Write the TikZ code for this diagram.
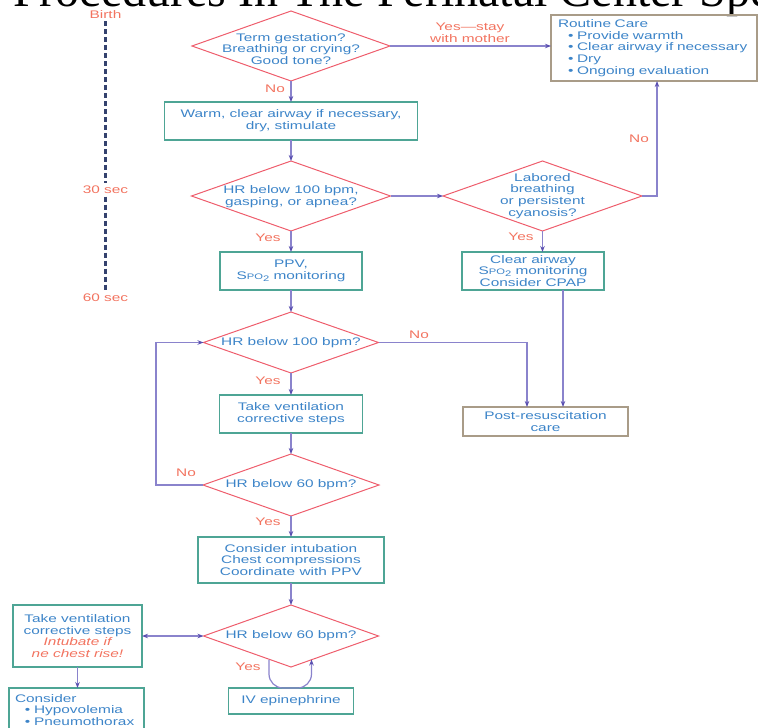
\documentclass[tikz,border=0pt]{standalone}
\usepackage{fontspec}
\setmainfont{Liberation Sans}
\newfontfamily\flowfont{Liberation Sans}[FakeStretch=1.4]
\newfontfamily\titlefont{Liberation Serif}
\usetikzlibrary{shapes.geometric,arrows.meta}
\definecolor{txtblue}{HTML}{3C84C8}
\definecolor{lblred}{HTML}{F2735F}
\definecolor{diared}{HTML}{EE5D6C}
\definecolor{boxteal}{HTML}{4EA595}
\definecolor{boxtan}{HTML}{A99C88}
\definecolor{connc}{HTML}{8A83CC}
\definecolor{arrowc}{HTML}{5A4FB0}
\definecolor{timec}{HTML}{34426E}
\newcommand{\ffont}{\flowfont\fontsize{11}{11.7}\selectfont}
\newcommand{\spotwo}{S{\fontsize{8}{9}\selectfont PO\raisebox{-2pt}{2}}}
\tikzset{
  dia/.style={diamond,draw=diared,line width=1pt,inner sep=0pt,outer sep=0pt},
  dtext/.style={text=txtblue,align=center,font=\ffont,inner sep=0pt},
  tealbox/.style={draw=boxteal,line width=1.1pt,text=txtblue,align=center,inner sep=1pt,outer sep=0pt,font=\ffont},
  tanbox/.style={draw=boxtan,line width=1.4pt,text=txtblue,align=center,inner sep=1pt,outer sep=0pt,font=\ffont},
  conn/.style={draw=connc,line width=1.2pt,-{Stealth[length=6pt,width=4.5pt,color=arrowc]}},
  dconn/.style={draw=connc,line width=1.2pt,{Stealth[length=6pt,width=4.5pt,color=arrowc]}-{Stealth[length=6pt,width=4.5pt,color=arrowc]}},
  lbl/.style={text=lblred,align=center,font=\ffont,inner sep=0pt},
  tlbl/.style={text=lblred,font=\ffont,inner sep=2.5pt},
  timeline/.style={draw=timec,line width=2.2pt,dash pattern=on 5pt off 3pt}
}
\begin{document}
\begin{tikzpicture}[x=1pt,y=-1pt]
\useasboundingbox (0,0) rectangle (758,728);
\node[anchor=base west,inner sep=0pt,font=\titlefont\fontsize{48}{48}\selectfont] (title) at (13,6) {Procedures In The Perinatal Center Spe};
\node[tlbl] (birth) at (105.5,14.5) {Birth};
\node[tlbl] (s30) at (105.5,190) {30 sec};
\node[tlbl] (s60) at (105.5,298) {60 sec};
\draw[timeline] (birth) -- (s30);
\draw[timeline] (s30) -- (s60);
\node[dia,minimum width=198pt,minimum height=70pt] (q1) at (291,46) {};
\node[dtext] (q1t) at (291,49) {Term gestation?\\Breathing or crying?\\Good tone?};
\node[tanbox,minimum width=206pt,minimum height=66pt,text width=192pt,inner xsep=7pt,align=left] (rc) at (654,48)
  {Routine Care\\\hspace*{10pt}\textbullet\ Provide warmth\\\hspace*{10pt}\textbullet\ Clear airway if necessary\\\hspace*{10pt}\textbullet\ Dry\\\hspace*{10pt}\textbullet\ Ongoing evaluation};
\node[tealbox,minimum width=253pt,minimum height=38pt] (b1) at (291,121) {Warm, clear airway if necessary,\\dry, stimulate};
\node[dia,minimum width=199pt,minimum height=70pt] (q2) at (291,196) {};
\node[dtext] (q2t) at (291,197) {HR below 100 bpm,\\gasping, or apnea?};
\node[dia,minimum width=199pt,minimum height=70pt] (q3) at (542.5,196) {};
\node[dtext] (q3t) at (542.5,196) {Labored\\breathing\\or persistent\\cyanosis?};
\node[tealbox,minimum width=142pt,minimum height=38pt] (ppv) at (291,271) {PPV,\\\spotwo\ monitoring};
\node[tealbox,minimum width=142pt,minimum height=38pt] (ca) at (533,271) {Clear airway\\\spotwo\ monitoring\\Consider CPAP};
\node[dia,minimum width=175pt,minimum height=61pt] (q4) at (291,342.5) {};
\node[dtext] (q4t) at (291,343) {HR below 100 bpm?};
\node[tanbox,minimum width=165pt,minimum height=29pt] (pr) at (545.5,421.5) {Post-resuscitation\\care};
\node[tealbox,minimum width=143pt,minimum height=38pt] (tv) at (291,414) {Take ventilation\\corrective steps};
\node[dia,minimum width=176pt,minimum height=62pt] (q5) at (291,485) {};
\node[dtext] (q5t) at (291,485) {HR below 60 bpm?};
\node[tealbox,minimum width=186pt,minimum height=46pt] (ci) at (291,560) {Consider intubation\\Chest compressions\\Coordinate with PPV};
\node[dia,minimum width=175pt,minimum height=62pt] (q6) at (291,636) {};
\node[dtext] (q6t) at (291,636) {HR below 60 bpm?};
\node[tealbox,minimum width=129pt,minimum height=62pt] (tl) at (77.5,636)
  {Take ventilation\\corrective steps\\{\itshape\color{lblred}Intubate if}\\{\itshape\color{lblred}ne chest rise!}};
\node[tealbox,anchor=north,minimum width=135pt,minimum height=44pt,text width=123pt,inner xsep=6pt,align=left] (cs) at (76.5,688)
  {Consider\\\hspace*{10pt}\textbullet\ Hypovolemia\\\hspace*{10pt}\textbullet\ Pneumothorax};
\node[tealbox,minimum width=125pt,minimum height=26pt] (iv) at (291,701) {IV epinephrine};
\draw[conn] (q1.east) -- (q1.east -| rc.west);
\node[lbl] (l1) at (470,33) {Yes—stay\\with mother};
\draw[conn] (q1.south) -- (b1.north);
\node[lbl] (l2) at (275,89) {No};
\draw[conn] (b1.south) -- (q2.north);
\draw[conn] (q2.east) -- (q3.west);
\draw[conn] (q3.east) -| ([xshift=3pt]rc.south);
\node[lbl] (l3) at (639,139) {No};
\draw[conn] (q3.south) -- (q3.south |- ca.north);
\node[lbl] (l4) at (521,237) {Yes};
\draw[conn] (q2.south) -- (ppv.north);
\node[lbl] (l5) at (268,238) {Yes};
\draw[conn] (ppv.south) -- (q4.north);
\draw[conn] (q4.east) -| ([xshift=-18.5pt]pr.north);
\node[lbl] (l6) at (419,335) {No};
\draw[conn] ([xshift=30pt]ca.south) -- ([xshift=17.5pt]pr.north);
\draw[conn] (q4.south) -- (tv.north);
\node[lbl] (l7) at (268,381) {Yes};
\draw[conn] (tv.south) -- (q5.north);
\draw[conn] (q5.west) -- ++(-47pt,0pt) |- (q4.west);
\node[lbl] (l8) at (186,473) {No};
\draw[conn] (q5.south) -- (ci.north);
\node[lbl] (l9) at (268,522) {Yes};
\draw[conn] (ci.south) -- (q6.north);
\draw[dconn] (q6.west) -- (tl.east);
\draw[conn] (tl.south) -- (tl.south |- cs.north);
\coordinate (lpa) at (269,659.5);
\coordinate (lpb) at (311.5,659.5);
\draw[conn,rounded corners=14pt] (lpa) -- (lpa |- iv.north) -- (lpb |- iv.north) -- (lpb);
\node[lbl] (l10) at (248,667) {Yes};
\end{tikzpicture}
\end{document}
